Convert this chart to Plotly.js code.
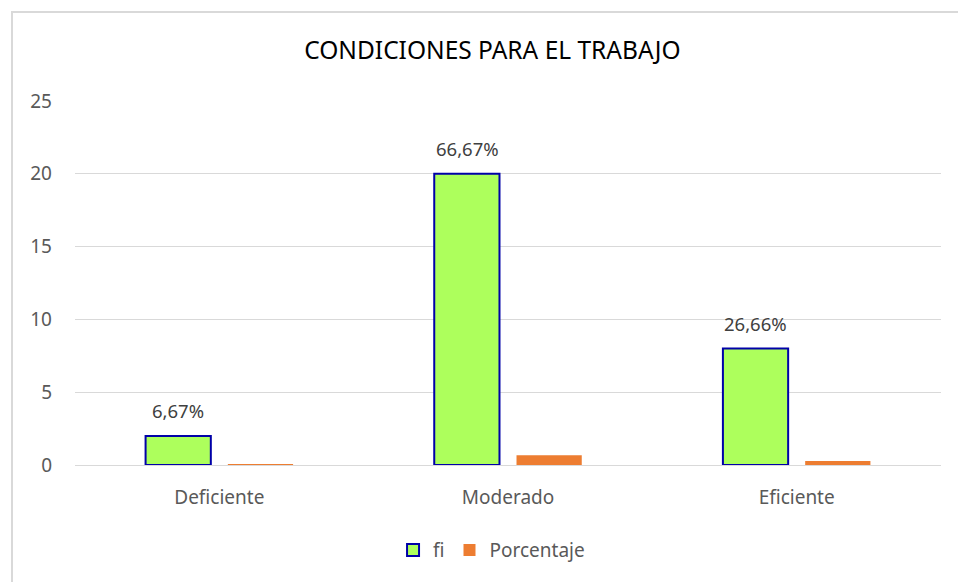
<!DOCTYPE html>
<html>
<head>
<meta charset="utf-8">
<script src="https://cdn.plot.ly/plotly-3.0.1.min.js"></script>
<style>
  html, body { margin: 0; padding: 0; background: #fff; overflow: hidden; }
  #wrap { position: relative; width: 958px; height: 582px; }
  #chart { width: 958px; height: 582px; }
  #frame { position: absolute; left: 11px; top: 11px; width: 1000px; height: 1000px;
           border: 2px solid #D9D9D9; box-sizing: border-box; pointer-events: none; }
</style>
</head>
<body>
<div id="wrap">
  <div id="chart"></div>
  <div id="frame"></div>
</div>
<script>
const categories = ["Deficiente", "Moderado", "Eficiente"];
const fiValues = [2, 20, 8];
const porcentajeValues = [0.0667, 0.6667, 0.2666];
const fiLabels = ["6,67%", "66,67%", "26,66%"];
const seriesNames = ["fi", "Porcentaje"];
const yTicks = [0, 5, 10, 15, 20, 25];

const FONT = "Noto Sans, Open Sans, sans-serif";

const traces = [
  {
    type: "bar",
    name: seriesNames[0],
    x: categories,
    y: fiValues,
    marker: { color: "#ADFF5C", line: { color: "#0000A8", width: 2 } },
    hoverinfo: "skip"
  },
  {
    type: "bar",
    name: seriesNames[1],
    x: categories,
    y: porcentajeValues,
    marker: { color: "#ED7D31", line: { width: 0 } },
    hoverinfo: "skip"
  }
];

const annotations = categories.map((c, i) => ({
  x: c, y: fiValues[i], xref: "x", yref: "y",
  text: fiLabels[i], showarrow: false,
  xshift: -41, yanchor: "bottom", yshift: 11,
  font: { family: FONT, size: 18.5, color: "#404040" }
}));

const layout = {
  width: 958, height: 582,
  paper_bgcolor: "#ffffff", plot_bgcolor: "#ffffff",
  margin: { l: 75, r: 17, t: 101, b: 117, pad: 0 },
  title: { text: "CONDICIONES PARA EL TRABAJO", x: 0.514, xanchor: "center", y: 0.913, yanchor: "middle",
           font: { family: FONT, size: 24.5, color: "#000000" } },
  barmode: "group",
  bargap: 0.43,
  bargroupgap: 0.207,
  xaxis: {
    type: "category",
    showgrid: false, zeroline: false,
    showline: false, ticks: "",
    tickfont: { family: FONT, size: 19, color: "#595959" },
    ticklabelstandoff: 19
  },
  yaxis: {
    range: [0, 25], tickvals: yTicks, ticktext: yTicks.map(String),
    showgrid: true, gridcolor: "#D9D9D9", gridwidth: 1,
    zeroline: true, zerolinecolor: "#D9D9D9", zerolinewidth: 1,
    showline: false, ticks: "",
    tickfont: { family: FONT, size: 19, color: "#595959" },
    ticklabelstandoff: 22
  },
  showlegend: true,
  legend: {
    orientation: "h", x: 0.481, xanchor: "center", y: -0.234, yanchor: "middle",
    font: { family: FONT, size: 19, color: "#595959" },
    itemwidth: 30, traceorder: "normal"
  },
  annotations: annotations
};

Plotly.newPlot("chart", traces, layout, { displayModeBar: false, staticPlot: true });
</script>
</body>
</html>
